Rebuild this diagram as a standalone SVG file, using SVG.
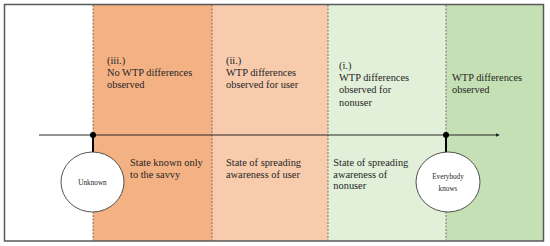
<svg xmlns="http://www.w3.org/2000/svg" width="550" height="246" viewBox="0 0 550 246">
<style>
  .t { font-family: "Liberation Serif", "Times New Roman", serif; font-size: 10.4px; fill: #262626; }
  .s { font-family: "Liberation Serif", "Times New Roman", serif; font-size: 7.2px; fill: #262626; text-anchor: middle; }
  .div { stroke: #595959; stroke-width: 0.8; stroke-dasharray: 2 1.5; fill: none; }
  .node { fill: #ffffff; stroke: #404040; stroke-width: 0.9; }
  .axis { stroke: #262626; stroke-width: 1; fill: none; }
  .stub { stroke: #000000; stroke-width: 2; }
</style>
<defs>
  <marker id="arr" viewBox="0 0 6 6" refX="5" refY="3" markerWidth="4" markerHeight="4" orient="auto">
    <path d="M0,0 L6,3 L0,6 z" fill="#262626"/>
  </marker>
</defs>
<rect x="0" y="0" width="550" height="246" fill="#ffffff"/>
<g id="bands">
  <rect x="93" y="5" width="119" height="236" fill="#f4b183"/>
  <rect x="212" y="5" width="116" height="236" fill="#f8cbad"/>
  <rect x="328" y="5" width="118" height="236" fill="#e2f0d9"/>
  <rect x="446" y="5" width="98" height="236" fill="#c5e0b4"/>
</g>
<rect x="4.5" y="4.5" width="539" height="236.5" fill="none" stroke="#595959" stroke-width="1.5"/>
<g id="dividers">
  <line class="div" x1="93" y1="5" x2="93" y2="240"/>
  <line class="div" x1="212" y1="5" x2="212" y2="240"/>
  <line class="div" x1="328" y1="5" x2="328" y2="240"/>
  <line class="div" x1="446" y1="5" x2="446" y2="240"/>
</g>
<g id="connectors">
  <line class="axis" x1="39" y1="135" x2="499" y2="135" marker-end="url(#arr)"/>
  <line class="stub" x1="93" y1="135" x2="93" y2="152"/>
  <line class="stub" x1="446" y1="135" x2="446" y2="152"/>
  <circle cx="93" cy="135" r="3" fill="#000000"/>
  <circle cx="446" cy="135" r="3" fill="#000000"/>
</g>
<g id="unknown">
  <ellipse class="node" cx="92.5" cy="182" rx="31.5" ry="30"/>
  <text class="s" x="92.5" y="184.5">Unknown</text>
</g>
<g id="everybody">
  <ellipse class="node" cx="448" cy="182" rx="32" ry="30"/>
  <text class="s" x="448" y="179.3">Everybody</text>
  <text class="s" x="448" y="190.7">knows</text>
</g>
<g id="col1">
  <text class="t" x="107" y="63.5">(iii.)</text>
  <text class="t" x="107" y="75.8">No WTP differences</text>
  <text class="t" x="107" y="88">observed</text>
  <text class="t" x="130" y="166">State known only</text>
  <text class="t" x="130" y="177.5">to the savvy</text>
</g>
<g id="col2">
  <text class="t" x="226" y="63.5">(ii.)</text>
  <text class="t" x="226" y="75.8">WTP differences</text>
  <text class="t" x="226" y="88">observed for user</text>
  <text class="t" x="226" y="166">State of spreading</text>
  <text class="t" x="226" y="177.5">awareness of user</text>
</g>
<g id="col3">
  <text class="t" x="339" y="68.5">(i.)</text>
  <text class="t" x="339" y="81">WTP differences</text>
  <text class="t" x="339" y="93.3">observed for</text>
  <text class="t" x="339" y="105.6">nonuser</text>
  <text class="t" x="333.3" y="166">State of spreading</text>
  <text class="t" x="333.3" y="177.5">awareness of</text>
  <text class="t" x="333.3" y="189.3">nonuser</text>
</g>
<g id="col4">
  <text class="t" x="452" y="81">WTP differences</text>
  <text class="t" x="452" y="93.3">observed</text>
</g>
</svg>
